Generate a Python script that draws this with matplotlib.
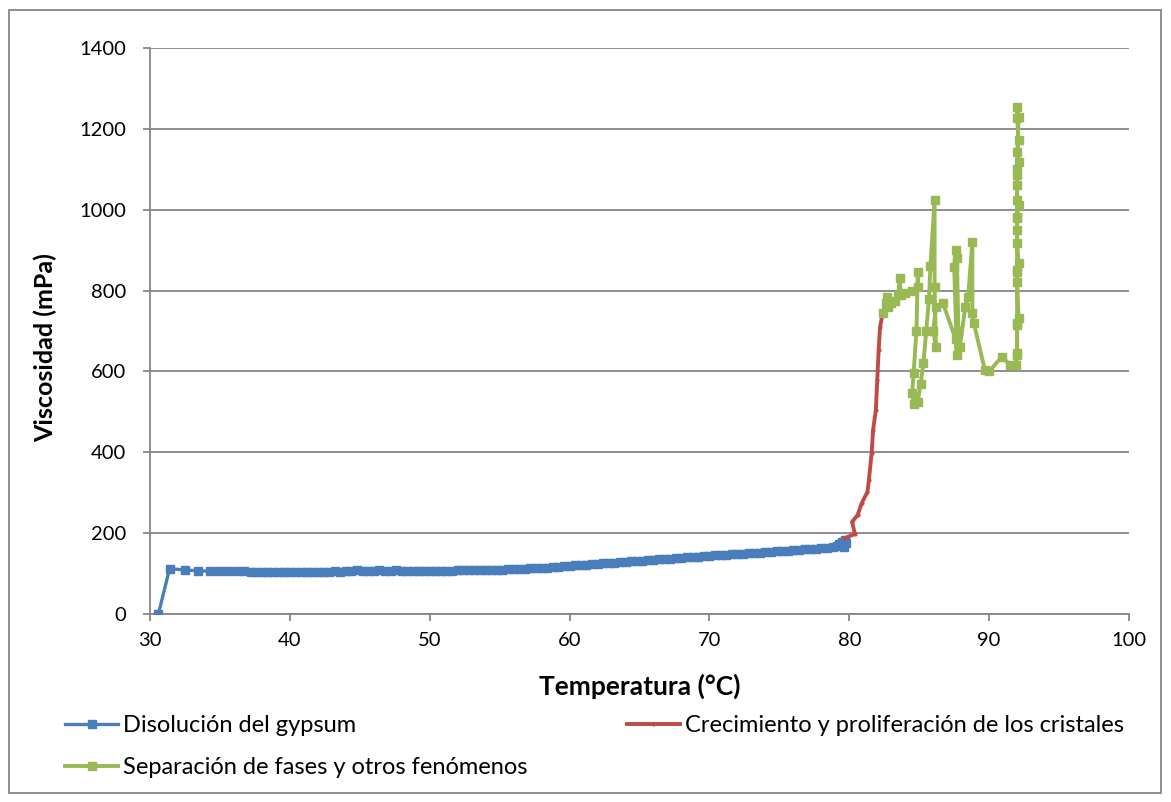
import matplotlib
matplotlib.use("Agg")
import matplotlib.pyplot as plt
from matplotlib.patches import Rectangle

# chart data
t_disolucion = [30.6, 31.4, 32.5, 33.4, 34.3, 34.9, 35.6, 36.2, 36.7, 37.2, 37.6,
                38.0, 38.4, 38.8, 39.2, 39.6, 40.0, 40.4, 40.8, 41.2, 41.6, 42.0,
                42.4, 42.8, 43.2, 43.6, 44.0, 44.4, 44.8, 45.2, 45.6, 46.0, 46.4,
                46.8, 47.2, 47.6, 48.0, 48.4, 48.8, 49.2, 49.6, 50.0, 50.4, 50.8,
                51.2, 51.6, 52.0, 52.4, 52.8, 53.2, 53.6, 54.0, 54.4, 54.8, 55.2,
                55.6, 56.0, 56.4, 56.8, 57.2, 57.6, 58.0, 58.4, 58.8, 59.2, 59.6,
                60.0, 60.4, 60.8, 61.2, 61.6, 62.0, 62.4, 62.8, 63.2, 63.6, 64.0,
                64.4, 64.8, 65.2, 65.6, 66.0, 66.4, 66.8, 67.2, 67.6, 68.0, 68.4,
                68.8, 69.2, 69.6, 70.0, 70.4, 70.8, 71.2, 71.6, 72.0, 72.4, 72.8,
                73.2, 73.6, 74.0, 74.4, 74.8, 75.2, 75.6, 76.0, 76.4, 76.8, 77.2,
                77.6, 78.0, 78.4, 78.8, 79.1, 79.3, 79.5, 79.6, 79.7, 79.8]
v_disolucion = [0, 112, 109, 107, 106, 106, 106, 106, 106, 105, 105,
                105, 104, 104, 103, 103, 104, 104, 104, 104, 104, 104,
                103, 105, 106, 105, 106, 107, 108, 107, 106, 107, 108,
                106, 107, 108, 106, 107, 107, 107, 107, 107, 107, 107,
                107, 107, 108, 108, 108, 108, 109, 109, 109, 110, 110,
                111, 111, 112, 112, 113, 114, 114, 115, 116, 117, 118,
                119, 120, 121, 122, 123, 124, 125, 126, 127, 128, 129,
                130, 131, 132, 133, 134, 135, 136, 137, 138, 139, 140,
                141, 142, 143, 144, 145, 146, 147, 148, 149, 149, 150,
                151, 152, 153, 154, 155, 156, 157, 158, 159, 160, 161,
                162, 163, 164, 166, 168, 172, 178, 166, 184, 176]

t_crecimiento = [79.7, 80.4, 80.2, 80.6, 80.9, 81.3, 81.4, 81.6, 81.7, 81.9,
                 82.0, 82.1, 82.2, 82.4]
v_crecimiento = [188, 198, 228, 245, 275, 302, 331, 398, 455, 505,
                 579, 653, 710, 744]

t_separacion = [82.4, 82.6, 82.7, 82.8, 83.0, 83.3, 83.5, 83.6, 83.7, 84.0,
                84.5, 84.9, 84.9, 84.8, 84.6, 84.5, 84.6, 84.9, 85.1, 85.3,
                85.5, 85.7, 85.8, 86.1, 86.1, 86.2, 86.0, 86.2, 86.7, 87.6,
                87.7, 87.5, 87.6, 87.7, 87.8, 87.9, 88.3, 88.5, 88.8, 88.8,
                88.9, 89.7, 90.0, 90.9, 91.5, 91.9, 92.0, 92.0, 92.1, 92.0,
                92.0, 92.1, 92.0, 92.0, 92.0, 92.1, 92.0, 92.0, 92.0, 92.1,
                92.0, 92.1, 92.0, 92.0, 92.1, 92.0, 92.0, 92.0, 92.0, 92.0]
v_separacion = [744, 770, 785, 760, 770, 775, 790, 830, 790, 795,
                800, 808, 845, 700, 596, 547, 520, 525, 570, 620,
                700, 780, 860, 1024, 809, 660, 700, 760, 769, 680,
                640, 858, 900, 880, 700, 660, 760, 784, 920, 744,
                720, 603, 600, 636, 616, 616, 646, 715, 732, 821,
                846, 868, 918, 950, 982, 1011, 1024, 1061, 1086, 1118,
                1143, 1172, 1227, 1254, 1230, 1100, 980, 850, 720, 640]

series_labels = ["Disolución del gypsum",
                 "Crecimiento y proliferación de los cristales",
                 "Separación de fases y otros fenómenos"]

x_ticks = [30, 40, 50, 60, 70, 80, 90, 100]
y_ticks = [0, 200, 400, 600, 800, 1000, 1200, 1400]

BLUE = "#4A7EBB"
RED = "#BE4B48"
GREEN = "#98B954"
GRID = "#868686"

plt.rcParams['font.family'] = ['Lato', 'DejaVu Sans']

fig = plt.figure(figsize=(11.71, 8.02), dpi=100)
ax = fig.add_axes([150 / 1171, 1 - 614 / 802, 979 / 1171, 566 / 802])

l_blue, = ax.plot(t_disolucion, v_disolucion, color=BLUE, lw=2.4, marker='s',
                  markersize=5.5, label=series_labels[0], zorder=3)
l_red, = ax.plot(t_crecimiento, v_crecimiento, color=RED, lw=2.8, marker='o',
                 markersize=2, label=series_labels[1], zorder=4)
l_green, = ax.plot(t_separacion, v_separacion, color=GREEN, lw=2.8, marker='s',
                   markersize=6, label=series_labels[2], zorder=5)

ax.set_xlim(30, 100)
ax.set_ylim(0, 1400)
ax.set_xticks(x_ticks)
ax.set_yticks(y_ticks)
ax.yaxis.grid(True, color=GRID, lw=1.3)
ax.set_axisbelow(True)

for side in ['top', 'right']:
    ax.spines[side].set_visible(False)
for side in ['left', 'bottom']:
    ax.spines[side].set_color(GRID)
    ax.spines[side].set_linewidth(1.3)
ax.tick_params(axis='both', direction='out', length=5, width=1.3, color=GRID,
               labelsize=14.5, labelcolor='black')
ax.tick_params(axis='y', pad=12)
ax.tick_params(axis='x', pad=8)

ax.set_xlabel("Temperatura (°C)", fontsize=19, fontweight='bold', va='center')
ax.set_ylabel("Viscosidad (mPa)", fontsize=18, fontweight='bold', va='center')
ax.xaxis.set_label_coords(0.5, -0.127)
ax.yaxis.set_label_coords(-0.107, 0.47)

# row-wise order like the original: blue | red, then green
fig.legend([l_blue, l_green, l_red],
           [series_labels[0], series_labels[2], series_labels[1]],
           loc='upper left', bbox_to_anchor=(65 / 1171, 1 - 715 / 802),
           ncol=2, frameon=False, fontsize=17, handlelength=2.25,
           handletextpad=0.21, columnspacing=4.2, labelspacing=0.9,
           borderaxespad=0, borderpad=0)

fig.add_artist(Rectangle((9 / 1171, 9 / 802), 1152 / 1171, 783 / 802,
                         transform=fig.transFigure, fill=False,
                         edgecolor=GRID, lw=1.3))

fig.savefig("out.png", dpi=100)
